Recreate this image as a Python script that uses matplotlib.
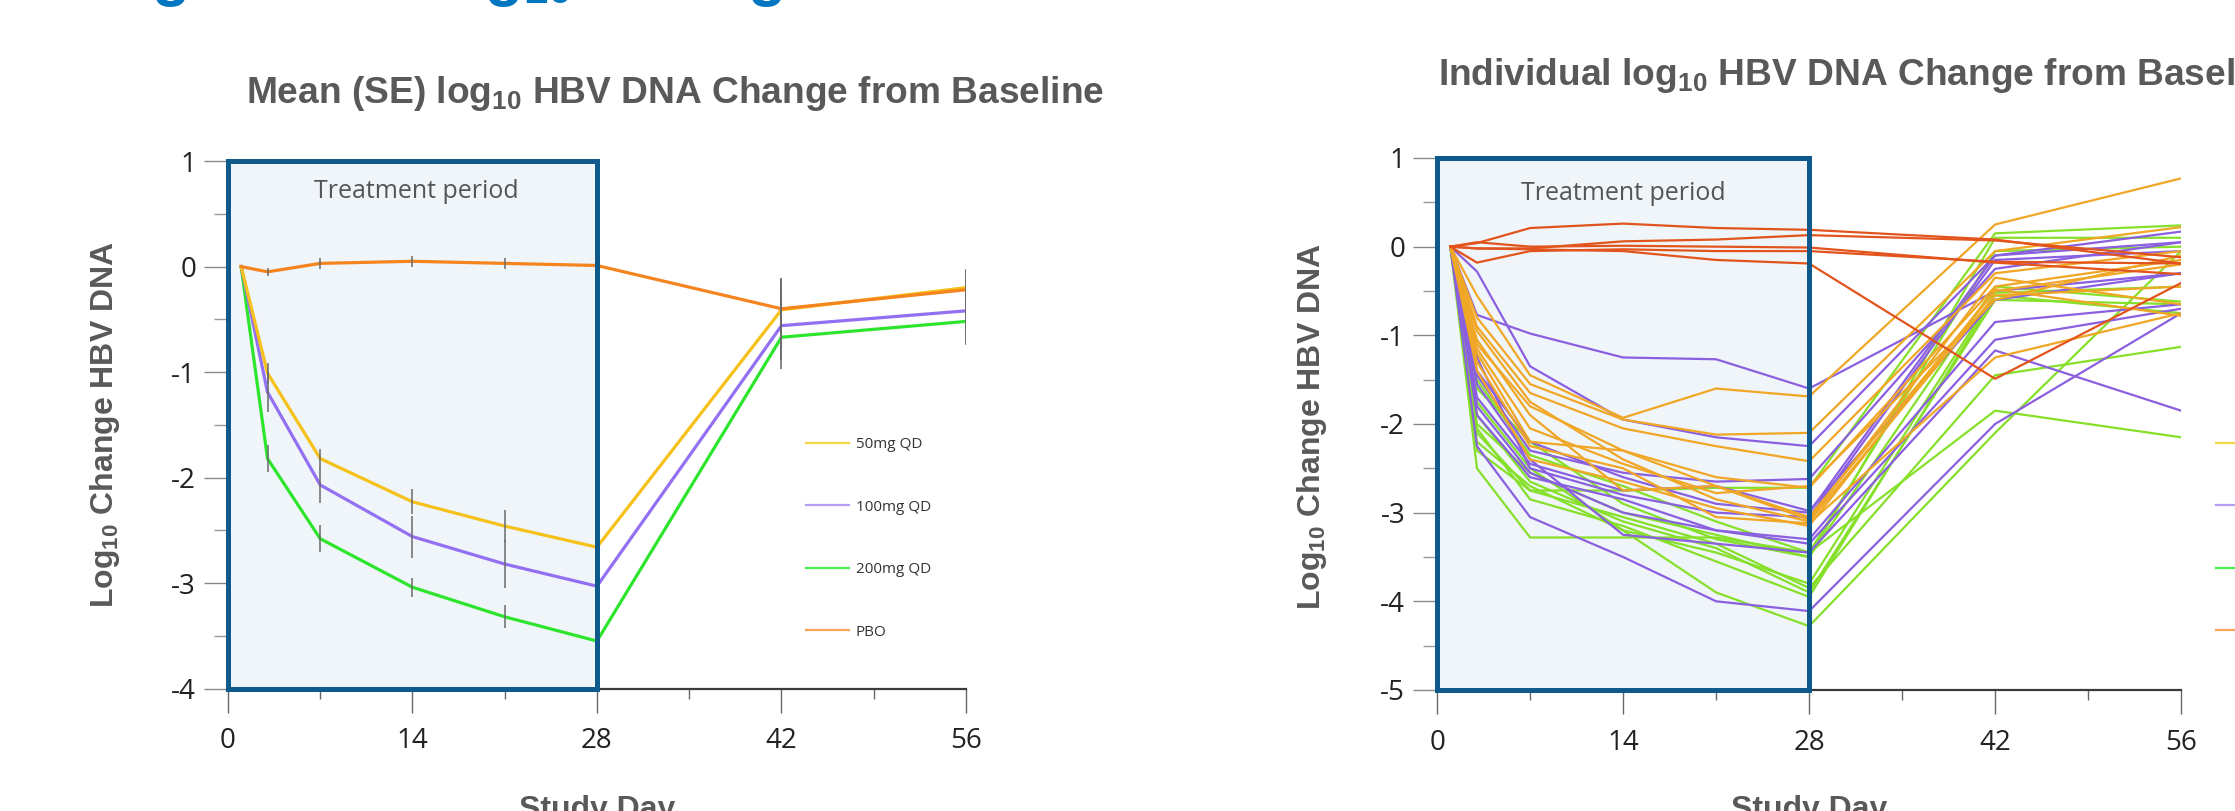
import matplotlib
matplotlib.use("Agg")
import matplotlib.pyplot as plt
from matplotlib.patches import Rectangle
from matplotlib.lines import Line2D
from matplotlib.ticker import MultipleLocator

plt.rcParams['mathtext.fontset'] = 'custom'
plt.rcParams['mathtext.rm'] = 'Liberation Sans'
plt.rcParams['mathtext.bf'] = 'Liberation Sans:bold'
plt.rcParams['mathtext.it'] = 'Liberation Sans:italic'
plt.rcParams['axes.unicode_minus'] = False

# ---------------- data ----------------
days = [1, 3, 7, 14, 21, 28, 42, 56]
xticks = [0, 14, 28, 42, 56]
groups = ["50mg QD", "100mg QD", "200mg QD", "PBO"]

mean_50 = [0, -1.01, -1.82, -2.23, -2.46, -2.66, -0.41, -0.20]
mean_100 = [0, -1.19, -2.07, -2.56, -2.82, -3.03, -0.56, -0.42]
mean_200 = [0, -1.82, -2.58, -3.04, -3.32, -3.55, -0.67, -0.52]
mean_pbo = [0, -0.05, 0.03, 0.05, 0.03, 0.01, -0.40, -0.22]

se_50 = [0, 0.10, 0.09, 0.12, 0.15, 0.17, 0.30, 0.17]
se_100 = [0, 0.19, 0.17, 0.20, 0.23, 0.22, 0.33, 0.30]
se_200 = [0, 0.13, 0.13, 0.09, 0.11, 0.15, 0.30, 0.22]
se_pbo = [0, 0.04, 0.05, 0.05, 0.05, 0.05, 0.28, 0.20]

# individual subjects
ind_pbo = [
    [0, 0.04, 0.21, 0.26, 0.21, 0.19, 0.08, -0.19],
    [0, -0.02, -0.02, 0.06, 0.08, 0.13, 0.07, -0.12],
    [0, 0.05, 0.00, 0.01, 0.00, -0.01, -0.18, -0.31],
    [0, -0.18, -0.05, -0.03, -0.05, -0.05, -0.17, -0.19],
    [0, -0.02, -0.03, -0.05, -0.15, -0.19, -1.49, -0.41],
]
ind_50 = [
    [0, -0.55, -1.45, -1.93, -1.60, -1.69, 0.25, 0.77],
    [0, -0.80, -1.55, -1.95, -2.12, -2.10, -0.05, 0.22],
    [0, -0.90, -1.65, -2.05, -2.25, -2.42, -0.30, -0.05],
    [0, -1.10, -1.80, -2.30, -2.60, -2.72, -0.45, -0.15],
    [0, -1.20, -2.20, -2.30, -2.70, -3.05, -0.50, -0.20],
    [0, -0.95, -1.75, -2.40, -2.85, -3.10, -0.55, -0.45],
    [0, -1.30, -2.25, -2.50, -3.05, -3.12, -1.25, -0.75],
    [0, -1.05, -1.90, -2.75, -2.70, -3.08, -0.35, -0.65],
    [0, -1.40, -2.40, -2.65, -2.95, -3.15, -0.48, -0.78],
    [0, -1.15, -2.05, -2.45, -2.78, -2.70, -0.60, -0.10],
]
ind_100 = [
    [0, -0.77, -0.98, -1.25, -1.27, -1.60, -0.50, -0.30],
    [0, -0.28, -1.35, -1.95, -2.15, -2.25, -0.10, 0.17],
    [0, -1.45, -2.30, -2.55, -2.65, -2.62, -0.25, 0.05],
    [0, -1.70, -2.45, -2.75, -2.70, -2.98, -0.60, -0.30],
    [0, -1.25, -2.50, -2.80, -3.00, -3.05, -0.15, -0.05],
    [0, -1.90, -2.60, -2.85, -3.20, -3.30, -0.85, -0.65],
    [0, -2.25, -3.05, -3.50, -4.00, -4.11, -2.00, -0.75],
    [0, -1.55, -2.40, -3.25, -3.35, -3.45, -1.17, -1.85],
    [0, -1.80, -2.55, -3.00, -3.20, -3.35, -1.05, -0.70],
    [0, -1.40, -2.20, -2.60, -2.90, -3.00, -0.10, 0.05],
]
ind_200 = [
    [0, -2.50, -3.28, -3.28, -3.28, -3.45, -1.85, -2.15],
    [0, -2.20, -2.70, -3.20, -3.90, -4.28, -2.10, -0.05],
    [0, -2.30, -2.75, -3.05, -3.35, -3.85, -1.45, -1.13],
    [0, -2.00, -2.55, -3.00, -3.25, -3.50, -0.45, -0.62],
    [0, -1.90, -2.65, -3.10, -3.40, -3.90, -0.60, -0.65],
    [0, -2.10, -2.75, -2.75, -2.72, -2.72, 0.15, 0.24],
    [0, -1.60, -2.20, -2.90, -3.30, -3.50, 0.10, 0.10],
    [0, -1.75, -2.50, -3.20, -3.45, -3.80, -0.52, -0.45],
    [0, -2.05, -2.85, -3.15, -3.55, -3.95, -0.55, -0.75],
    [0, -1.50, -2.35, -2.70, -3.10, -3.45, -0.05, 0.00],
]

# ---------------- styles ----------------
mean_colors = ["#f5c11a", "#9370f2", "#2ee52e", "#f5841f"]
ind_colors = ["#f0a726", "#8a5fe0", "#86e02a", "#e2541c"]
leg_colors = ["#f7d64a", "#b79df7", "#4bef4b", "#f8a55a"]
box_fill = "#f0f5f9"
box_edge = "#0f5a8c"
gray_txt = "#595959"
tick_font = "Open Sans"
title_font = "Liberation Sans"

fig = plt.figure(figsize=(22.35, 8.11), dpi=100)

ax1 = fig.add_axes([0.1020, 0.1510, 0.3302, 0.6504])
ax2 = fig.add_axes([0.6430, 0.1492, 0.3329, 0.6560])


def style_axes(ax, ymin):
    ax.set_xlim(0, 56)
    ax.set_ylim(ymin, 1)
    ax.set_xticks(xticks)
    ax.xaxis.set_minor_locator(MultipleLocator(7))
    ax.set_yticks(list(range(1, ymin - 1, -1)))
    ax.yaxis.set_minor_locator(MultipleLocator(0.5))
    ax.spines['top'].set_visible(False)
    ax.spines['right'].set_visible(False)
    ax.spines['bottom'].set_color("#3a3a3a")
    ax.spines['bottom'].set_linewidth(1.6)
    ax.spines['left'].set_color("#888888")
    ax.spines['left'].set_linewidth(1.0)
    ax.tick_params(axis='x', which='major', length=17, width=1.0, color="#666666",
                   pad=11, labelsize=20, labelcolor="#222222")
    ax.tick_params(axis='x', which='minor', length=7, width=1.0, color="#666666")
    ax.tick_params(axis='y', which='major', length=17, width=1.0, color="#888888",
                   pad=6, labelsize=20, labelcolor="#222222")
    ax.tick_params(axis='y', which='minor', length=10, width=1.0, color="#999999")
    for lab in ax.get_xticklabels() + ax.get_yticklabels():
        lab.set_fontfamily(tick_font)
    ax.add_patch(Rectangle((0, ymin), 28, 1 - ymin, facecolor=box_fill,
                           edgecolor='none', zorder=0))
    ax.add_patch(Rectangle((0, ymin), 28, 1 - ymin, facecolor='none',
                           edgecolor=box_edge, linewidth=3.6, zorder=6,
                           clip_on=False))


style_axes(ax1, -4)
style_axes(ax2, -5)

# ---- left: means with SE ----
means = [mean_50, mean_100, mean_200, mean_pbo]
ses = [se_50, se_100, se_200, se_pbo]
order = [2, 1, 0, 3]
for i in order:
    ax1.plot(days, means[i], color=mean_colors[i], lw=2.3, zorder=3,
             solid_joinstyle='round')
for i in order:
    ax1.errorbar(days[1:], means[i][1:], yerr=ses[i][1:], fmt='none',
                 ecolor="#6a6a6a", elinewidth=1.1, capsize=0, zorder=4)

ax1.text(14.3, 0.716, "Treatment period", ha='center', va='center',
         fontsize=18, color="#555555", family=tick_font, zorder=5)

leg_handles = [Line2D([0], [0], color=c, lw=1.6) for c in leg_colors]
fig.legend(leg_handles, groups, loc='center left',
           bbox_to_anchor=(806 / 2235, 1 - 538.5 / 811), frameon=False,
           prop={'family': tick_font, 'size': 11}, labelcolor="#333333",
           handlelength=2.8, handletextpad=0.45, labelspacing=3.1,
           borderpad=0, borderaxespad=0)

# ---- right: individuals ----
ind_sets = [ind_200, ind_100, ind_50, ind_pbo]
ind_cols = [ind_colors[2], ind_colors[1], ind_colors[0], ind_colors[3]]
for subjects, col in zip(ind_sets, ind_cols):
    for s in subjects:
        ax2.plot(days, s, color=col, lw=1.6, zorder=3)

ax2.text(14, 0.605, "Treatment period", ha='center', va='center',
         fontsize=18, color="#555555", family=tick_font, zorder=5)

fig.legend(leg_handles, groups, loc='center left',
           bbox_to_anchor=(2216 / 2235, 1 - 538.5 / 811), frameon=False,
           prop={'family': tick_font, 'size': 11}, labelcolor="#333333",
           handlelength=2.8, handletextpad=0.45, labelspacing=3.1,
           borderpad=0, borderaxespad=0)

# ---- titles and labels ----
fig.text(246 / 2235, 1 - 103 / 811,
         r"Mean (SE) log$_\mathbf{10}$ HBV DNA Change from Baseline",
         ha='left', va='baseline', fontsize=26.7, fontweight='bold',
         color=gray_txt, family=title_font)
fig.text(1438 / 2235, 1 - 85 / 811,
         r"Individual log$_\mathbf{10}$ HBV DNA Change from Baseline",
         ha='left', va='baseline', fontsize=26.7, fontweight='bold',
         color=gray_txt, family=title_font)

fig.text(105 / 2235, 1 - 425 / 811, r"Log$_\mathbf{10}$ Change HBV DNA",
         rotation=90, ha='center', va='center', fontsize=23,
         fontweight='bold', color=gray_txt, family=title_font)
fig.text(1312 / 2235, 1 - 427 / 811, r"Log$_\mathbf{10}$ Change HBV DNA",
         rotation=90, ha='center', va='center', fontsize=23,
         fontweight='bold', color=gray_txt, family=title_font)

fig.text(597 / 2235, 1 - 795 / 811, "Study Day", ha='center', va='top',
         fontsize=23, fontweight='bold', color=gray_txt, family=title_font)
fig.text(1809 / 2235, 1 - 795 / 811, "Study Day", ha='center', va='top',
         fontsize=23, fontweight='bold', color=gray_txt, family=title_font)

# cut-off slide heading (only its lowest part shows at the top edge)
fig.text(92 / 2235, 1 + 6 / 811,
         r"Significant log$_\mathbf{10}$ Change from Baseline",
         ha='left', va='baseline', fontsize=45, fontweight='bold',
         color="#0077c0", family=title_font)

fig.savefig("out.png", dpi=100, facecolor='white')
